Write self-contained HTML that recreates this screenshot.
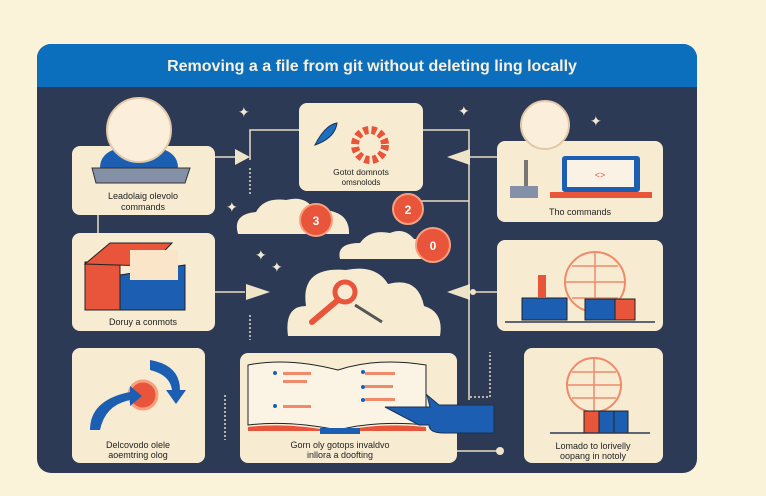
<!DOCTYPE html>
<html><head><meta charset="utf-8"><style>
html,body{margin:0;padding:0;background:#fbf2da;}
svg{display:block}
text{font-family:"Liberation Sans",sans-serif;}
</style></head><body>
<svg width="766" height="496" viewBox="0 0 766 496" xmlns="http://www.w3.org/2000/svg">
<rect width="766" height="496" fill="#fbf2da"/>
<!-- panel -->
<rect x="37" y="44" width="660" height="429" rx="14" fill="#2c3a55"/>
<path d="M37 87 V58 a14 14 0 0 1 14 -14 H683 a14 14 0 0 1 14 14 V87 Z" fill="#0c6fbd"/>
<text x="372" y="71" font-size="16" font-weight="bold" fill="#f8f0dc" text-anchor="middle">Removing a a file from  git without deleting ling locally</text>

<!-- connectors -->
<g stroke="#e8dcc0" stroke-width="1.5" fill="none">
<path d="M250 160 V130 H299"/>
<path d="M423 130 H469 V400"/>
<path d="M469 157 H497"/>
<path d="M215 157 H235"/>
<path d="M420 201 H469"/>
<path d="M98 215 V233"/>
<path d="M215 292 H245"/>
<path d="M469 292 H497"/>
<path d="M457 451 H500"/>
<path d="M470 397 H490 V352" stroke-dasharray="2 2"/>
<path d="M250 168 V195" stroke-dasharray="2 2"/>
<path d="M250 315 V340" stroke-dasharray="2 2"/>
<path d="M225 395 V440" stroke-dasharray="2 2"/>
</g>
<g fill="#f0e4c8">
<polygon points="235,149 250,157 235,165"/>
<polygon points="246,284 270,292 246,300"/>
<polygon points="447,157 470,149 470,165"/>
<polygon points="447,292 470,284 470,300"/>
<circle cx="500" cy="451" r="4"/>
<circle cx="473" cy="292" r="3"/>
</g>
<!-- sparkles -->
<g fill="#f3ead2" font-size="14" font-family="DejaVu Sans">
<text x="238" y="117">✦</text><text x="458" y="116">✦</text><text x="590" y="126">✦</text>
<text x="226" y="212">✦</text><text x="270" y="213">✦</text><text x="255" y="260">✦</text><text x="271" y="272">✦</text>
</g>

<!-- box 1 -->
<rect x="72" y="146" width="143" height="69" rx="8" fill="#f7ecd2"/>
<path d="M100 168 q0 -22 39 -22 q39 0 39 22 z" fill="#1c5fb2"/>
<circle cx="139" cy="130" r="32" fill="#fbeedb" stroke="#e3c8a8" stroke-width="2"/>
<polygon points="92,168 190,168 185,183 96,183" fill="#8390a6" stroke="#333" stroke-width="1"/>
<text x="143" y="199" font-size="9" fill="#222" text-anchor="middle">Leadolaig olevolo</text>
<text x="143" y="210" font-size="9" fill="#222" text-anchor="middle">commands</text>

<!-- box 2 -->
<rect x="299" y="103" width="124" height="88" rx="8" fill="#f7ecd2"/>
<circle cx="370" cy="145" r="15" fill="none" stroke="#e8553a" stroke-width="8" stroke-dasharray="5 3"/>
<path d="M315 145 q10 -20 22 -22 q-2 15 -22 22z" fill="#1c6fc0" stroke="#1c3050"/>
<text x="361" y="175" font-size="8.5" fill="#222" text-anchor="middle">Gotot domnots</text>
<text x="361" y="185" font-size="8" fill="#222" text-anchor="middle">omsnolods</text>

<!-- box 3 -->
<rect x="497" y="141" width="166" height="81" rx="8" fill="#f7ecd2"/>
<circle cx="545" cy="125" r="24" fill="#fbeedb" stroke="#e3c8a8" stroke-width="2"/>
<rect x="562" y="156" width="78" height="36" rx="3" fill="#1c5fb2"/>
<rect x="567" y="160" width="67" height="27" fill="#fbf2e6"/>
<text x="600" y="178" font-size="9" fill="#e8553a" text-anchor="middle">&lt;&gt;</text>
<rect x="550" y="192" width="102" height="6" fill="#e8553a"/>
<rect x="524" y="160" width="4" height="26" fill="#777"/>
<rect x="510" y="186" width="28" height="12" fill="#8390a6"/>
<text x="580" y="215" font-size="9" fill="#222" text-anchor="middle">Tho commands</text>

<!-- clouds -->
<g fill="#f7ecd2">
<path d="M238 234 q-6 -20 18 -22 q8 -15 30 -12 q20 -5 28 10 q36 -2 35 24 z"/>
<path d="M340 259 q-4 -16 20 -16 q10 -14 30 -10 q14 -6 24 6 q28 0 26 20 z"/>
<path d="M288 336 q-4 -30 18 -30 q-6 -40 40 -36 q30 -6 42 14 q30 -8 36 22 q20 6 16 30 z"/>
</g>
<g fill="#e8553a" stroke="#f7a080" stroke-width="2">
<circle cx="316" cy="220" r="16"/><circle cx="408" cy="209" r="15"/><circle cx="433" cy="245" r="17"/>
</g>
<g fill="#fff" font-size="12" text-anchor="middle" font-weight="bold">
<text x="316" y="225">3</text><text x="408" y="214">2</text><text x="433" y="250">0</text>
</g>
<circle cx="345" cy="292" r="10" fill="none" stroke="#e8553a" stroke-width="5"/>
<line x1="338" y1="300" x2="312" y2="322" stroke="#e8553a" stroke-width="6" stroke-linecap="round"/>
<line x1="355" y1="305" x2="382" y2="322" stroke="#555" stroke-width="3"/>

<!-- box 4 -->
<rect x="72" y="233" width="143" height="98" rx="8" fill="#f7ecd2"/>
<rect x="85" y="262" width="35" height="48" fill="#e8553a" stroke="#222"/>
<polygon points="120,275 185,265 185,310 120,310" fill="#1c5fb2" stroke="#222"/>
<polygon points="85,264 110,243 172,243 150,266" fill="#e8553a" stroke="#222"/>
<rect x="130" y="250" width="48" height="30" fill="#fbe5c8"/>
<text x="143" y="325" font-size="9" fill="#222" text-anchor="middle">Doruy a conmots</text>

<!-- box 6 -->
<rect x="497" y="240" width="166" height="91" rx="8" fill="#f7ecd2"/>
<circle cx="595" cy="282" r="30" fill="none" stroke="#f08a6a" stroke-width="2"/>
<path d="M565 282 H625 M595 252 V312 M572 266 H618 M572 298 H618" stroke="#f08a6a" stroke-width="1.5"/>
<rect x="522" y="298" width="45" height="22" fill="#1c5fb2" stroke="#222"/>
<rect x="585" y="299" width="30" height="21" fill="#1c5fb2" stroke="#222"/>
<rect x="615" y="299" width="20" height="21" fill="#e8553a" stroke="#222"/>
<rect x="538" y="275" width="8" height="23" fill="#e8553a"/>
<line x1="505" y1="322" x2="655" y2="322" stroke="#2c3a55" stroke-width="1.5"/>

<!-- box 7 -->
<rect x="72" y="348" width="133" height="115" rx="8" fill="#f7ecd2"/>
<circle cx="143" cy="395" r="14" fill="#e8553a" stroke="#f7a080" stroke-width="3"/>
<path d="M90 430 q0 -30 40 -38 l0 -6 l12 10 l-12 10 v-6 q-25 5 -30 30z" fill="#1c5fb2"/>
<path d="M150 360 q30 5 30 30 l6 0 l-10 14 l-10 -14 h6 q-2 -15 -22 -20z" fill="#1c5fb2"/>
<text x="138" y="448" font-size="9" fill="#222" text-anchor="middle">Delcovodo olele</text>
<text x="138" y="458" font-size="9" fill="#222" text-anchor="middle">aoemtring olog</text>

<!-- box 8 -->
<rect x="240" y="353" width="217" height="110" rx="8" fill="#f7ecd2"/>
<path d="M248 365 q40 -8 90 5 q40 -13 88 -5 v60 q-48 -5 -88 5 q-50 -10 -90 -5z" fill="#fbf4e4" stroke="#222"/>
<path d="M248 427 q40 -5 90 5 q40 -10 88 -5 v4 h-178z" fill="#e8553a"/>
<g fill="#f08a6a"><rect x="283" y="372" width="28" height="3"/><rect x="283" y="380" width="24" height="3"/><rect x="283" y="405" width="28" height="3"/><rect x="365" y="372" width="30" height="3"/><rect x="365" y="385" width="28" height="3"/><rect x="365" y="398" width="30" height="3"/></g>
<g fill="#1c5fb2"><circle cx="275" cy="373" r="2"/><circle cx="275" cy="406" r="2"/><circle cx="363" cy="372" r="2"/><circle cx="363" cy="387" r="2"/><circle cx="363" cy="400" r="2"/></g>
<path d="M385 407 H430 l-3 -12 l12 10 h55 v28 h-50 q-15 0 -15 -8 h-10 z" fill="#1c5fb2" stroke="#1c3050"/>
<rect x="320" y="428" width="40" height="6" fill="#1c5fb2"/>
<text x="340" y="448" font-size="9" fill="#222" text-anchor="middle">Gorn oly gotops invaldvo</text>
<text x="340" y="458" font-size="9" fill="#222" text-anchor="middle">inllora a doofting</text>

<!-- box 9 -->
<rect x="524" y="348" width="139" height="115" rx="8" fill="#f7ecd2"/>
<circle cx="594" cy="385" r="27" fill="none" stroke="#f08a6a" stroke-width="2"/>
<path d="M567 385 H621 M594 358 V412 M572 372 H616 M572 398 H616" stroke="#f08a6a" stroke-width="1.5"/>
<rect x="584" y="411" width="15" height="22" fill="#e8553a" stroke="#222"/>
<rect x="599" y="411" width="15" height="22" fill="#1c5fb2" stroke="#222"/>
<rect x="614" y="411" width="14" height="22" fill="#1c5fb2" stroke="#222"/>
<line x1="550" y1="433" x2="650" y2="433" stroke="#2c3a55" stroke-width="1.5"/>
<text x="593" y="449" font-size="9" fill="#222" text-anchor="middle">Lomado to lorivelly</text>
<text x="593" y="459" font-size="9" fill="#222" text-anchor="middle">oopang in notoly</text>
</svg>
</body></html>
